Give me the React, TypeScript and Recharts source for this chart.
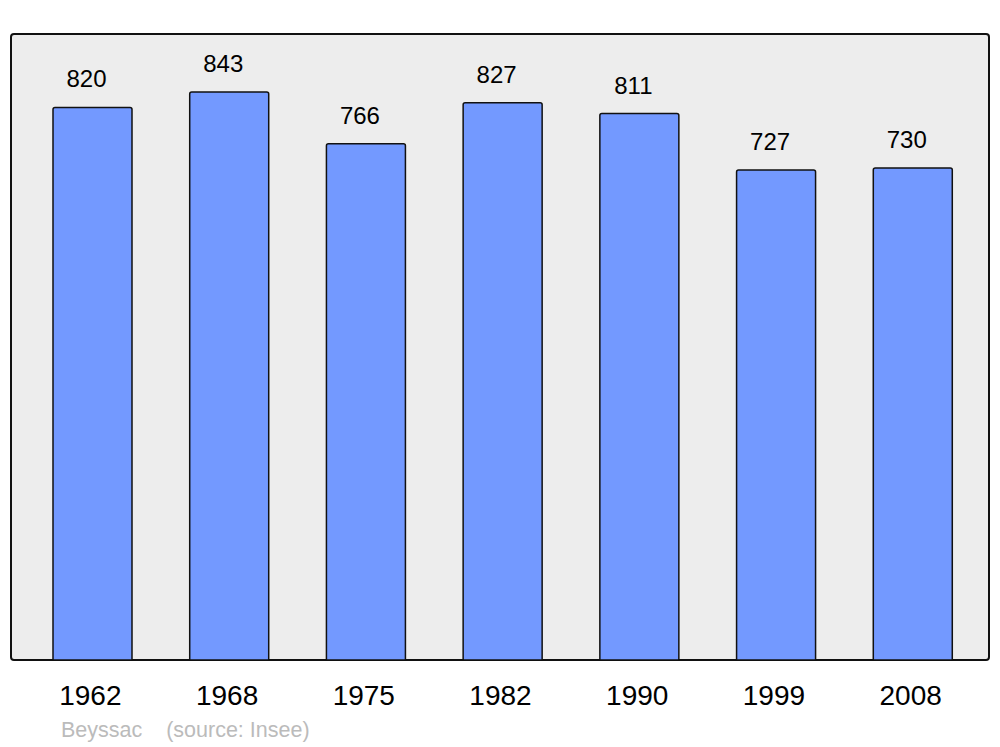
import React from "react";
import { BarChart, Bar, XAxis, YAxis, LabelList } from "recharts";

const years = ["1962", "1968", "1975", "1982", "1990", "1999", "2008"];
const population = [820, 843, 766, 827, 811, 727, 730];
const footerPlace = "Beyssac";
const footerSource = "(source: Insee)";

const data = years.map((y, i) => ({ year: y, value: population[i] }));

const FONT = "'Liberation Sans', Arial, sans-serif";

const ValueLabel = (props: any) => {
  const { x, y, width, value } = props;
  return (
    <text
      x={Number(x) + Number(width) / 2 - 6}
      y={Number(y) - 20}
      textAnchor="middle"
      fontSize={24}
      fontFamily={FONT}
      fill="#000"
    >
      {value}
    </text>
  );
};

const YearTick = (props: any) => {
  const { x, y, payload } = props;
  return (
    <text
      x={Number(x) - 2}
      y={Number(y) + 20}
      textAnchor="middle"
      fontSize={28}
      fontFamily={FONT}
      fill="#000"
    >
      {payload.value}
    </text>
  );
};

export default function App() {
  return (
    <div style={{ position: "absolute", left: 0, top: 0, width: 1000, height: 747, background: "#fff" }}>
      <div
        style={{
          position: "absolute",
          left: 10,
          top: 33,
          width: 976,
          height: 624,
          background: "#EDEDED",
          border: "2.5px solid #111",
          borderRadius: 4,
        }}
      />
      <div style={{ position: "absolute", left: 0, top: 0 }}>
        <BarChart
          width={1000}
          height={747}
          data={data}
          margin={{ top: 34, right: 11, left: 11, bottom: 0 }}
          barSize={79}
        >
          <XAxis
            dataKey="year"
            height={87}
            axisLine={false}
            tickLine={false}
            tickMargin={19}
            padding={{ left: 13, right: 8 }}
            tick={YearTick}
            interval={0}
          />
          <YAxis hide domain={[0, 929]} />
          <Bar
            dataKey="value"
            fill="#7399FF"
            stroke="#111"
            strokeWidth={1.5}
            radius={[2, 2, 0, 0]}
            isAnimationActive={false}
          >
            <LabelList dataKey="value" content={ValueLabel} />
          </Bar>
        </BarChart>
      </div>
      <div
        style={{
          position: "absolute",
          left: 61,
          top: 718,
          fontFamily: FONT,
          fontSize: 21.5,
          color: "#BBBBBB",
          whiteSpace: "pre",
        }}
      >
        {footerPlace + "    " + footerSource}
      </div>
    </div>
  );
}
